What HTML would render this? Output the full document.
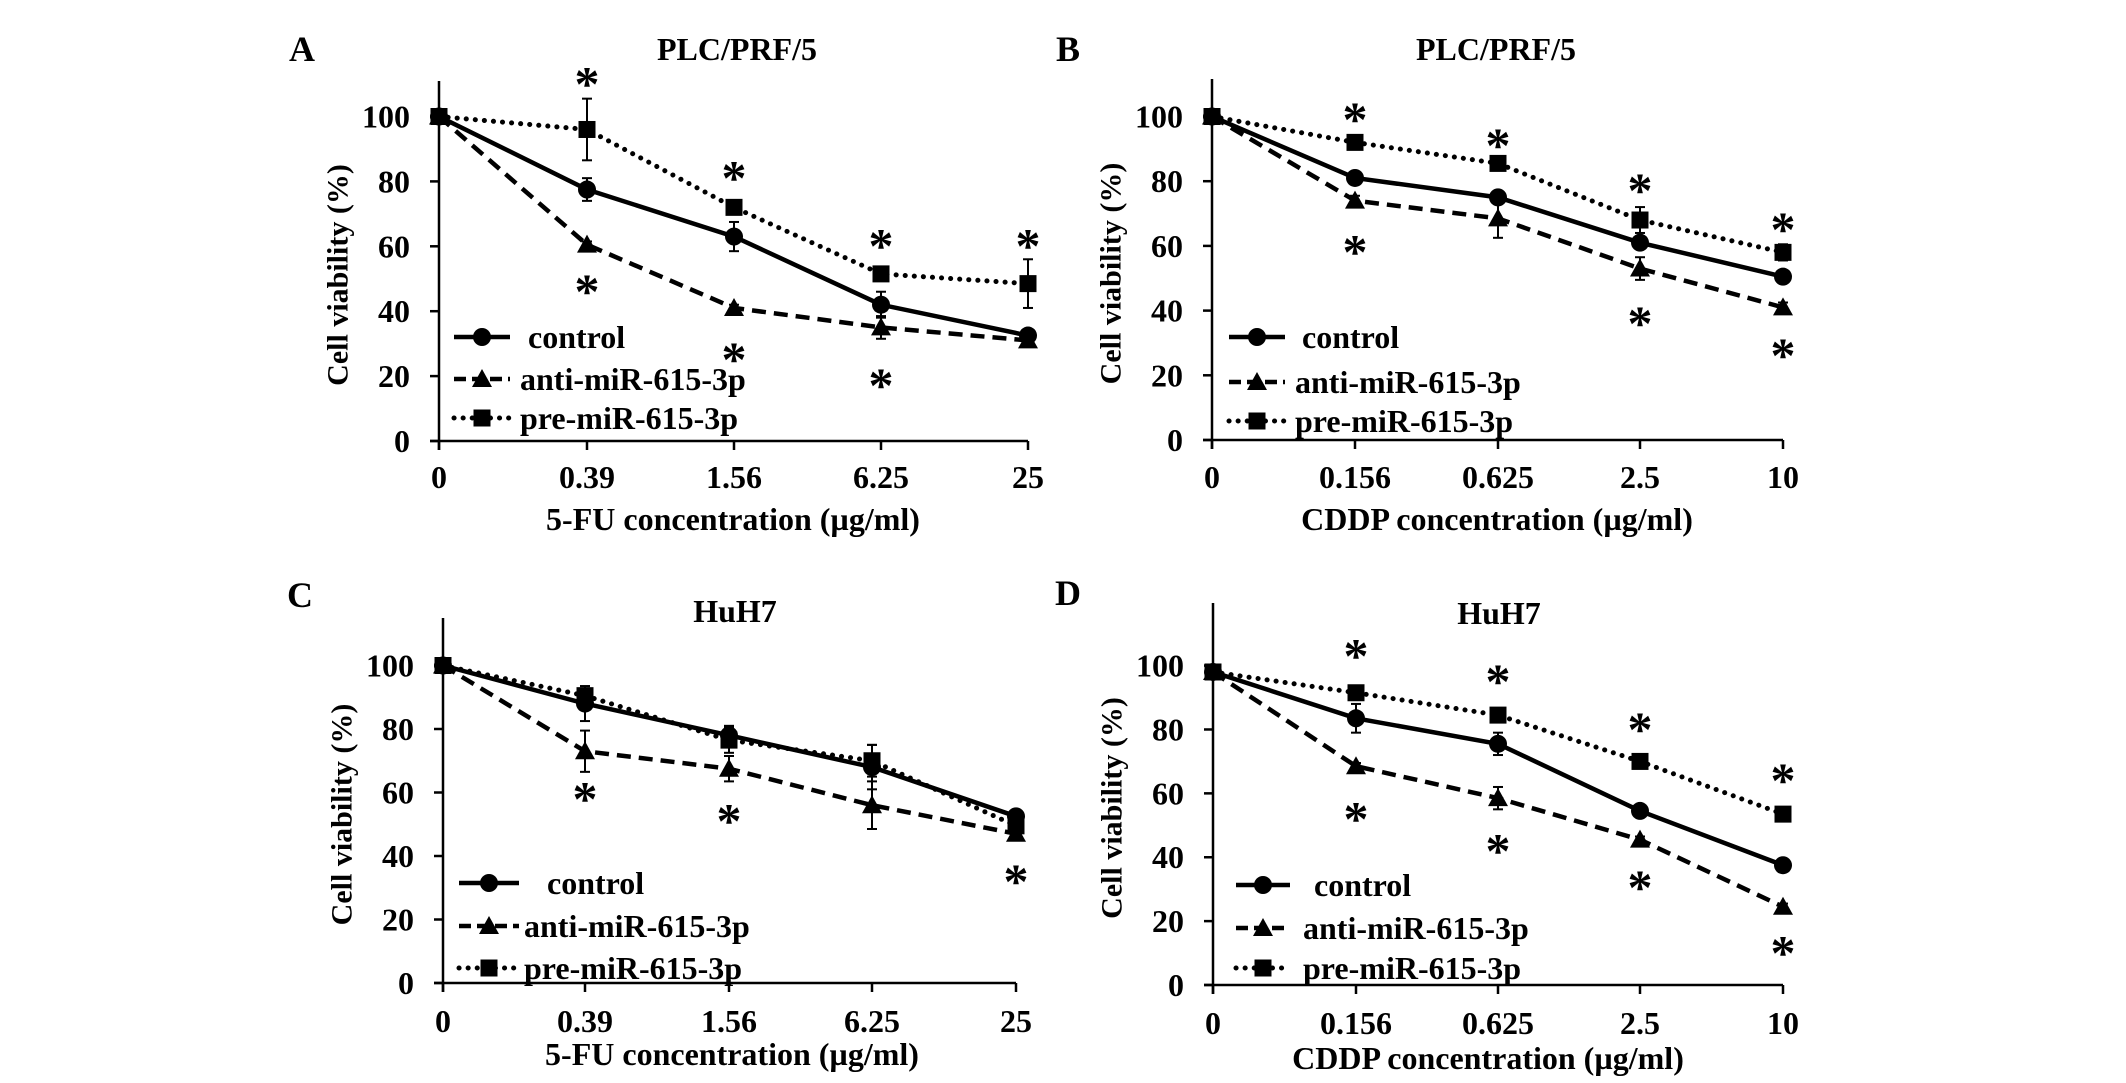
<!DOCTYPE html>
<html><head><meta charset="utf-8"><style>
html,body{margin:0;padding:0;background:#fff;}
svg{display:block;font-family:"Liberation Serif",serif;font-weight:bold;}
</style></head><body>
<svg id="fig" width="2126" height="1083" viewBox="0 0 2126 1083"></svg>
<script>
// ---- data ----
const catsFU = ["0","0.39","1.56","6.25","25"];
const catsCD = ["0","0.156","0.625","2.5","10"];
const yTicks = [0,20,40,60,80,100];
// Panel A
const aCtrl=[100,77.5,63,42,32.5], aCtrlErr=[0,3.5,4.5,4,1];
const aAnti=[100,60.5,41,35,31], aAntiErr=[0,1,1,3.5,1];
const aPre=[100,96,72,51.5,48.5], aPreErr=[0,9.5,1.5,1.5,7.5];
const aStars=[[1,113],[1,49],[2,84],[2,28],[3,63],[3,20],[4,63]];
// Panel B
const bCtrl=[100,81,75,61,50.5], bCtrlErr=[0,1.5,1.5,1.5,1];
const bAnti=[100,74,68.5,53,41], bAntiErr=[0,1.5,6,3.5,1.5];
const bPre=[100,92,85.5,68,58], bPreErr=[0,1,1,4,2.5];
const bStars=[[1,102],[1,61],[2,94],[3,80],[3,39],[4,68],[4,29]];
// Panel C
const cCtrl=[100,88,78,68,52.5], cCtrlErr=[0,5.5,3,7,2];
const cAnti=[100,73,67.5,56,47], cAntiErr=[0,6.5,4,7.5,1];
const cPre=[100,90.5,76.5,70,49.5], cPreErr=[0,3,4,5,2];
const cStars=[[1,61],[2,54],[4,35]];
// Panel D
const dCtrl=[98,83.5,75.5,54.5,37.5], dCtrlErr=[0,4.5,3.5,1,1];
const dAnti=[98,68.5,58.5,45.5,24.5], dAntiErr=[0,1,3.5,1,1];
const dPre=[98,91.5,84.5,70,53.5], dPreErr=[0,1,1,1,1];
const dStars=[[1,106],[1,55],[2,98],[2,45],[3,83],[3,33.5],[4,67],[4,13]];

const NS="http://www.w3.org/2000/svg";
const svg=document.getElementById('fig');
function mk(tag,attrs,parent){const e=document.createElementNS(NS,tag);for(const k in attrs)e.setAttribute(k,attrs[k]);(parent||svg).appendChild(e);return e;}

const panels=[
 {id:'a',letter:'A',lx:302,ly:49,title:'PLC/PRF/5',tx:737,ty:49,ax:439,xs:[439,587,734,881,1028],y0:441,y100:116.5,top:81,cats:catsFU,xt:'5-FU concentration (µg/ml)',xtx:733,xty:519,tly:477,
  ctrl:aCtrl,ctrlE:aCtrlErr,anti:aAnti,antiE:aAntiErr,pre:aPre,preE:aPreErr,stars:aStars,
  leg:{l0:454,l1:510,tc:528,ta:520,y:[337,379,418]}},
 {id:'b',letter:'B',lx:1068,ly:49,title:'PLC/PRF/5',tx:1496,ty:49,ax:1212,xs:[1212,1355,1498,1640,1783],y0:440,y100:116.5,top:79,cats:catsCD,xt:'CDDP concentration (µg/ml)',xtx:1497,xty:519,tly:477,
  ctrl:bCtrl,ctrlE:bCtrlErr,anti:bAnti,antiE:bAntiErr,pre:bPre,preE:bPreErr,stars:bStars,
  leg:{l0:1229,l1:1285,tc:1302,ta:1295,y:[337,382,421]}},
 {id:'c',letter:'C',lx:300,ly:595,title:'HuH7',tx:735,ty:611,ax:443,xs:[443,585,729,872,1016],y0:983,y100:665.5,top:618,cats:catsFU,xt:'5-FU concentration (µg/ml)',xtx:732,xty:1054,tly:1021,
  ctrl:cCtrl,ctrlE:cCtrlErr,anti:cAnti,antiE:cAntiErr,pre:cPre,preE:cPreErr,stars:cStars,
  leg:{l0:459,l1:519,tc:547,ta:524,y:[883,926,968]}},
 {id:'d',letter:'D',lx:1068,ly:593,title:'HuH7',tx:1499,ty:613,ax:1213,xs:[1213,1356,1498,1640,1783],y0:985,y100:665.6,top:603,cats:catsCD,xt:'CDDP concentration (µg/ml)',xtx:1488,xty:1058,tly:1023,
  ctrl:dCtrl,ctrlE:dCtrlErr,anti:dAnti,antiE:dAntiErr,pre:dPre,preE:dPreErr,stars:dStars,
  leg:{l0:1236,l1:1290,tc:1314,ta:1303,y:[885,928,968]}}
];

function marker(kind,x,y,g){
  let m;
  if(kind==='circle') m=mk('circle',{cx:x,cy:y,r:9,fill:'#000'},g);
  else if(kind==='square') m=mk('rect',{x:x-8.5,y:y-8.5,width:17,height:17,fill:'#000'},g);
  else m=mk('polygon',{points:`${x},${y-10} ${x+10},${y+8} ${x-10},${y+8}`,fill:'#000'},g);
  return m;
}
const styles={ctrl:{dash:'',kind:'circle',cap:'butt'},anti:{dash:'14 8',kind:'triangle',cap:'butt'},pre:{dash:'0.1 9',kind:'square',cap:'round'}};

panels.forEach(p=>{
  const g=mk('g',{});
  
  
  const Y=v=>p.y0+(p.y100-p.y0)*v/100;
  const X=i=>p.xs[i];
  const t1=mk('text',{x:p.lx,y:p.ly,'font-size':36,'text-anchor':'middle','dominant-baseline':'central'},g);t1.textContent=p.letter;
  
  const t2=mk('text',{x:p.tx,y:p.ty,'font-size':32,'text-anchor':'middle','dominant-baseline':'central'},g);t2.textContent=p.title;
  
  const ya=mk('line',{x1:p.ax,y1:p.top,x2:p.ax,y2:p.y0+9,stroke:'#000','stroke-width':2.5},g);
  
  const xa=mk('line',{x1:p.ax-9,y1:p.y0,x2:p.xs[4],y2:p.y0,stroke:'#000','stroke-width':2.5},g);
  
  yTicks.forEach(v=>{
    mk('line',{x1:p.ax-9,y1:Y(v),x2:p.ax,y2:Y(v),stroke:'#000','stroke-width':2.5},g);
    const t=mk('text',{x:p.ax-29,y:Y(v),'font-size':32,'text-anchor':'end','dominant-baseline':'central'},g);t.textContent=v;
    
  });
  p.cats.forEach((c,i)=>{
    mk('line',{x1:X(i),y1:p.y0,x2:X(i),y2:p.y0+9,stroke:'#000','stroke-width':2.5},g);
    const t=mk('text',{x:X(i),y:p.tly,'font-size':32,'text-anchor':'middle','dominant-baseline':'central'},g);t.textContent=c;
    
  });
  const xt=mk('text',{x:p.xtx,y:p.xty,'font-size':32,'text-anchor':'middle','dominant-baseline':'central'},g);xt.textContent=p.xt;
  
  const ycx=p.ax-101, ycy=(p.top+p.y0)/2+14;
  const yt=mk('text',{x:ycx,y:ycy,'font-size':30,'text-anchor':'middle','dominant-baseline':'central',transform:`rotate(-90 ${ycx} ${ycy})`},g);yt.textContent='Cell viability (%)';
  
  ['pre','anti','ctrl'].forEach(s=>{
    const vals=p[s], errs=p[s+'E'], st=styles[s];
    const sg=mk('g',{},g);
    
    
    errs.forEach((e,i)=>{ if(e>0){
      mk('line',{x1:X(i),y1:Y(vals[i]-e),x2:X(i),y2:Y(vals[i]+e),stroke:'#000','stroke-width':2},sg);
      mk('line',{x1:X(i)-5,y1:Y(vals[i]-e),x2:X(i)+5,y2:Y(vals[i]-e),stroke:'#000','stroke-width':2},sg);
      mk('line',{x1:X(i)-5,y1:Y(vals[i]+e),x2:X(i)+5,y2:Y(vals[i]+e),stroke:'#000','stroke-width':2},sg);
    }});
    const pts=vals.map((v,i)=>X(i)+','+Y(v)).join(' ');
    mk('polyline',{points:pts,fill:'none',stroke:'#000','stroke-width':st.cap==='round'?5:4.5,'stroke-dasharray':st.dash,'stroke-linecap':st.cap},sg);
    vals.forEach((v,i)=>{const m=marker(st.kind,X(i),Y(v),sg);
      
      });
  });
  p.stars.forEach(sv=>{
    const t=mk('text',{x:X(sv[0]),y:Y(sv[1])+9,'font-size':50,'text-anchor':'middle','dominant-baseline':'central'},g);t.textContent='*';
    
  });
  const L=p.leg;
  const names=[['ctrl','control',L.tc],['anti','anti-miR-615-3p',L.ta],['pre','pre-miR-615-3p',L.ta]];
  names.forEach((n,k)=>{
    const lg=mk('g',{},g);
    
    
    const st=styles[n[0]];
    mk('line',{x1:L.l0,y1:L.y[k],x2:L.l1,y2:L.y[k],stroke:'#000','stroke-width':st.cap==='round'?5:4.5,'stroke-dasharray':n[0]==='anti'?'12 6':st.dash,'stroke-linecap':st.cap},lg);
    marker(st.kind,(L.l0+L.l1)/2,L.y[k],lg);
    const t=mk('text',{x:n[2],y:L.y[k],'font-size':32,'dominant-baseline':'central'},lg);t.textContent=n[1];
  });
});
</script>
</body></html>
